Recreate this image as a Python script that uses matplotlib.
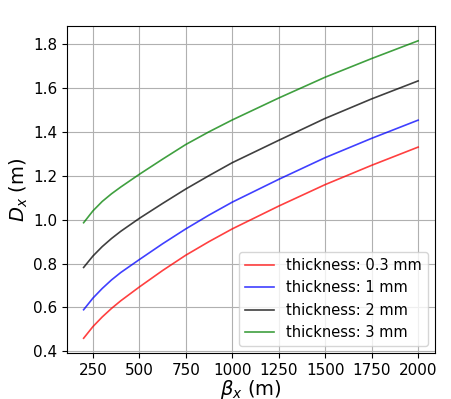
import matplotlib
matplotlib.use('Agg')
import matplotlib.pyplot as plt

# beta_x values (m) where the curves were read
beta_x = [200, 250, 300, 350, 400, 500, 625, 750, 875, 1000, 1250, 1500, 1750, 2000]

# D_x (m) for each thickness
d_03mm = [0.459, 0.512, 0.556, 0.595, 0.630, 0.693, 0.768, 0.838, 0.900, 0.958, 1.062, 1.160, 1.248, 1.331]
d_1mm = [0.589, 0.642, 0.686, 0.725, 0.759, 0.818, 0.890, 0.958, 1.021, 1.080, 1.184, 1.283, 1.371, 1.454]
d_2mm = [0.782, 0.834, 0.877, 0.914, 0.947, 1.006, 1.074, 1.140, 1.201, 1.260, 1.362, 1.462, 1.551, 1.633]
d_3mm = [0.986, 1.040, 1.083, 1.118, 1.149, 1.207, 1.276, 1.343, 1.401, 1.455, 1.555, 1.650, 1.735, 1.816]

labels = ['thickness: 0.3 mm', 'thickness: 1 mm', 'thickness: 2 mm', 'thickness: 3 mm']
colors = ['r', 'b', 'k', 'g']

fig = plt.figure(figsize=(4.52, 3.99), dpi=100)
ax = fig.add_axes([0.148, 0.115, 0.814, 0.82])

for d, lab, c in zip([d_03mm, d_1mm, d_2mm, d_3mm], labels, colors):
    ax.plot(beta_x, d, color=c, alpha=0.75, lw=1.2, label=lab)

ax.set_xlabel(r'$\beta_x$ (m)', fontsize=14, labelpad=0)
ax.set_ylabel(r'$D_x$ (m)', fontsize=14, labelpad=2)
ax.set_xticks([250, 500, 750, 1000, 1250, 1500, 1750, 2000])
ax.tick_params(labelsize=11)
ax.grid(True)
ax.legend(loc='lower right', fontsize=10.5)

fig.savefig('out.png', dpi=100)
